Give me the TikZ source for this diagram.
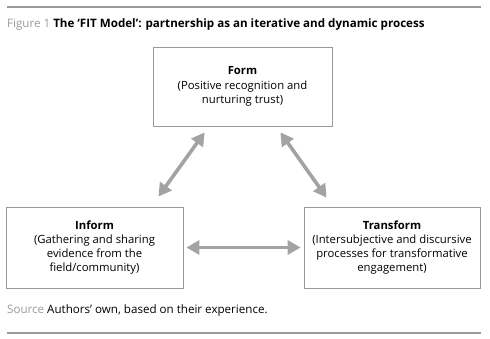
\documentclass[tikz,border=0pt]{standalone}
\usepackage{fontspec}
\setmainfont{Open Sans}
\usepackage{xcolor}
\usetikzlibrary{arrows.meta, positioning}
\definecolor{figgray}{HTML}{9A9A9A}
\definecolor{linkgray}{HTML}{A3A3A3}
\tikzset{
  stage/.style={draw=figgray, line width=0.8pt, align=center,
                font=\fontsize{11.3}{14.3}\selectfont, inner sep=0pt},
  link/.style={{Triangle[length=13pt,width=14pt]}-{Triangle[length=13pt,width=14pt]},
               line width=3.6pt, draw=linkgray},
  rulebar/.style={line width=2.6pt, draw=figgray},
  note/.style={anchor=base west, font=\fontsize{11.6}{13}\selectfont, inner sep=0pt}
}

\begin{document}
\begin{tikzpicture}[x=1pt, y=-1pt]
  \useasboundingbox (0,0) rectangle (490,339);
  \draw[rulebar] (7,7) -- (481,7);
  \node[note] (caption) at (7,28)
    {\textcolor{figgray}{Figure 1} \textbf{The ‘FIT Model’: partnership as an iterative and dynamic process}};

  \node[stage, minimum width=179pt, minimum height=79pt] (form) at (242.5,86.5)
    {\textbf{Form}\\(Positive recognition and\\nurturing trust)};
  \node[stage, minimum width=177pt, minimum height=81pt] (inform) at (94.5,247.5)
    {\textbf{Inform}\\(Gathering and sharing\\evidence from the\\field/community)};
  \node[stage, minimum width=176pt, minimum height=81pt] (transform) at (392,247.5)
    {\textbf{Transform}\\(Intersubjective and discursive\\processes for transformative\\engagement)};

  \draw[link] ([xshift=52pt,yshift=-6pt]form.south west) -- ([xshift=-25pt,yshift=10pt]inform.north east);
  \draw[link] ([xshift=-52pt,yshift=-6pt]form.south east) -- ([xshift=23pt,yshift=9pt]transform.north west);
  \draw[link] ([xshift=3pt]inform.east) -- ([xshift=-3pt]transform.west);

  \node[note] (source) at (7,313)
    {\textcolor{figgray}{Source} Authors’ own, based on their experience.};
  \draw[rulebar] (7,333) -- (481,333);
\end{tikzpicture}
\end{document}
